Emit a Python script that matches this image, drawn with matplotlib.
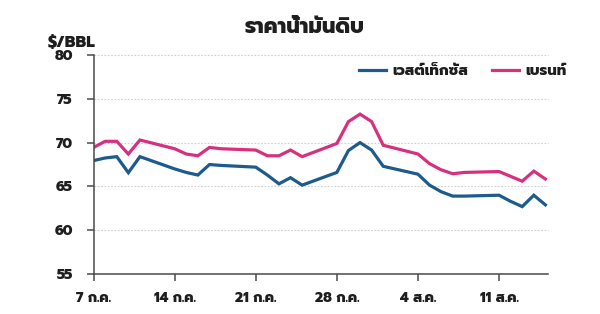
import matplotlib
matplotlib.use("Agg")
import matplotlib.pyplot as plt
import datetime as dt

FONTS = ['Prompt', 'Liberation Sans', 'Noto Sans Thai', 'DejaVu Sans']
plt.rcParams['font.family'] = FONTS

# ---- data ----
dates = ["2025-07-07", "2025-07-08", "2025-07-09", "2025-07-10", "2025-07-11",
         "2025-07-14", "2025-07-15", "2025-07-16", "2025-07-17", "2025-07-18",
         "2025-07-21", "2025-07-22", "2025-07-23", "2025-07-24", "2025-07-25",
         "2025-07-28", "2025-07-29", "2025-07-30", "2025-07-31", "2025-08-01",
         "2025-08-04", "2025-08-05", "2025-08-06", "2025-08-07", "2025-08-08",
         "2025-08-11", "2025-08-12", "2025-08-13", "2025-08-14", "2025-08-15"]
wti = [67.95, 68.25, 68.4, 66.57, 68.4,
       67.0, 66.6, 66.3, 67.5, 67.4,
       67.2, 66.3, 65.3, 66.0, 65.15,
       66.6, 69.1, 70.0, 69.15, 67.3,
       66.4, 65.15, 64.4, 63.9, 63.9,
       64.0, 63.3, 62.7, 64.0, 62.9]
brent = [69.45, 70.15, 70.15, 68.7, 70.3,
         69.3, 68.7, 68.5, 69.45, 69.3,
         69.15, 68.5, 68.5, 69.15, 68.4,
         69.9, 72.4, 73.25, 72.4, 69.7,
         68.7, 67.6, 66.9, 66.45, 66.6,
         66.7, 66.15, 65.6, 66.75, 65.85]
series_names = ["เวสต์เท็กซัส", "เบรนท์"]
tick_dates = ["2025-07-07", "2025-07-14", "2025-07-21", "2025-07-28", "2025-08-04", "2025-08-11"]
tick_labels = ["7 ก.ค.", "14 ก.ค.", "21 ก.ค.", "28 ก.ค.", "4 ส.ค.", "11 ส.ค."]
y_ticks = [55, 60, 65, 70, 75, 80]
title = "ราคาน้ำมันดิบ"
unit = "$/BBL"

x = [dt.datetime.strptime(d, "%Y-%m-%d") for d in dates]
xt = [dt.datetime.strptime(d, "%Y-%m-%d") for d in tick_dates]

fig = plt.figure(figsize=(6, 3.14), dpi=100)
ax = fig.add_axes([0.156, 0.127, 0.757, 0.698])

blue = "#1c5b8c"
pink = "#d6317f"
ax.plot(x, wti, color=blue, lw=2.3, label=series_names[0], solid_joinstyle='miter')
ax.plot(x, brent, color=pink, lw=2.3, label=series_names[1], solid_joinstyle='miter')

ax.set_ylim(55, 80)
ax.set_yticks(y_ticks)
ax.set_xlim(x[0], x[-1] + dt.timedelta(hours=5))
ax.set_xticks(xt)
ax.set_xticklabels(tick_labels)

for s in ['top', 'right']:
    ax.spines[s].set_visible(False)
for s in ['left', 'bottom']:
    ax.spines[s].set_color('#4a4a4a')
    ax.spines[s].set_linewidth(1.1)

ax.tick_params(axis='both', colors='#4a4a4a', length=5, width=1.1, labelcolor='#1e1e1e')
ax.tick_params(axis='y', pad=10)
ax.tick_params(axis='x', pad=8)
for lab in ax.get_xticklabels() + ax.get_yticklabels():
    lab.set_fontweight(800)
    lab.set_fontsize(10)

for v in y_ticks[1:]:
    ax.axhline(v, color='#cfcfcf', lw=0.8, ls=(0, (1.5, 1.5)), zorder=0, clip_on=False)

fig.text(0.508, 0.912, title, ha='center', va='center', fontsize=15, fontweight=800, color='#1e1e1e')
fig.text(0.08, 0.862, unit, ha='left', va='center', fontsize=11.5, fontweight=800, color='#1e1e1e')

leg = ax.legend(loc='center', bbox_to_anchor=(0.771, 1 - 71 / 314), bbox_transform=fig.transFigure,
                ncol=2, frameon=False, handlelength=1.9, handletextpad=0.4, columnspacing=1.6,
                prop={'weight': 800, 'size': 10.5})
for t in leg.get_texts():
    t.set_color('#1e1e1e')

fig.savefig("out.png", dpi=100)
